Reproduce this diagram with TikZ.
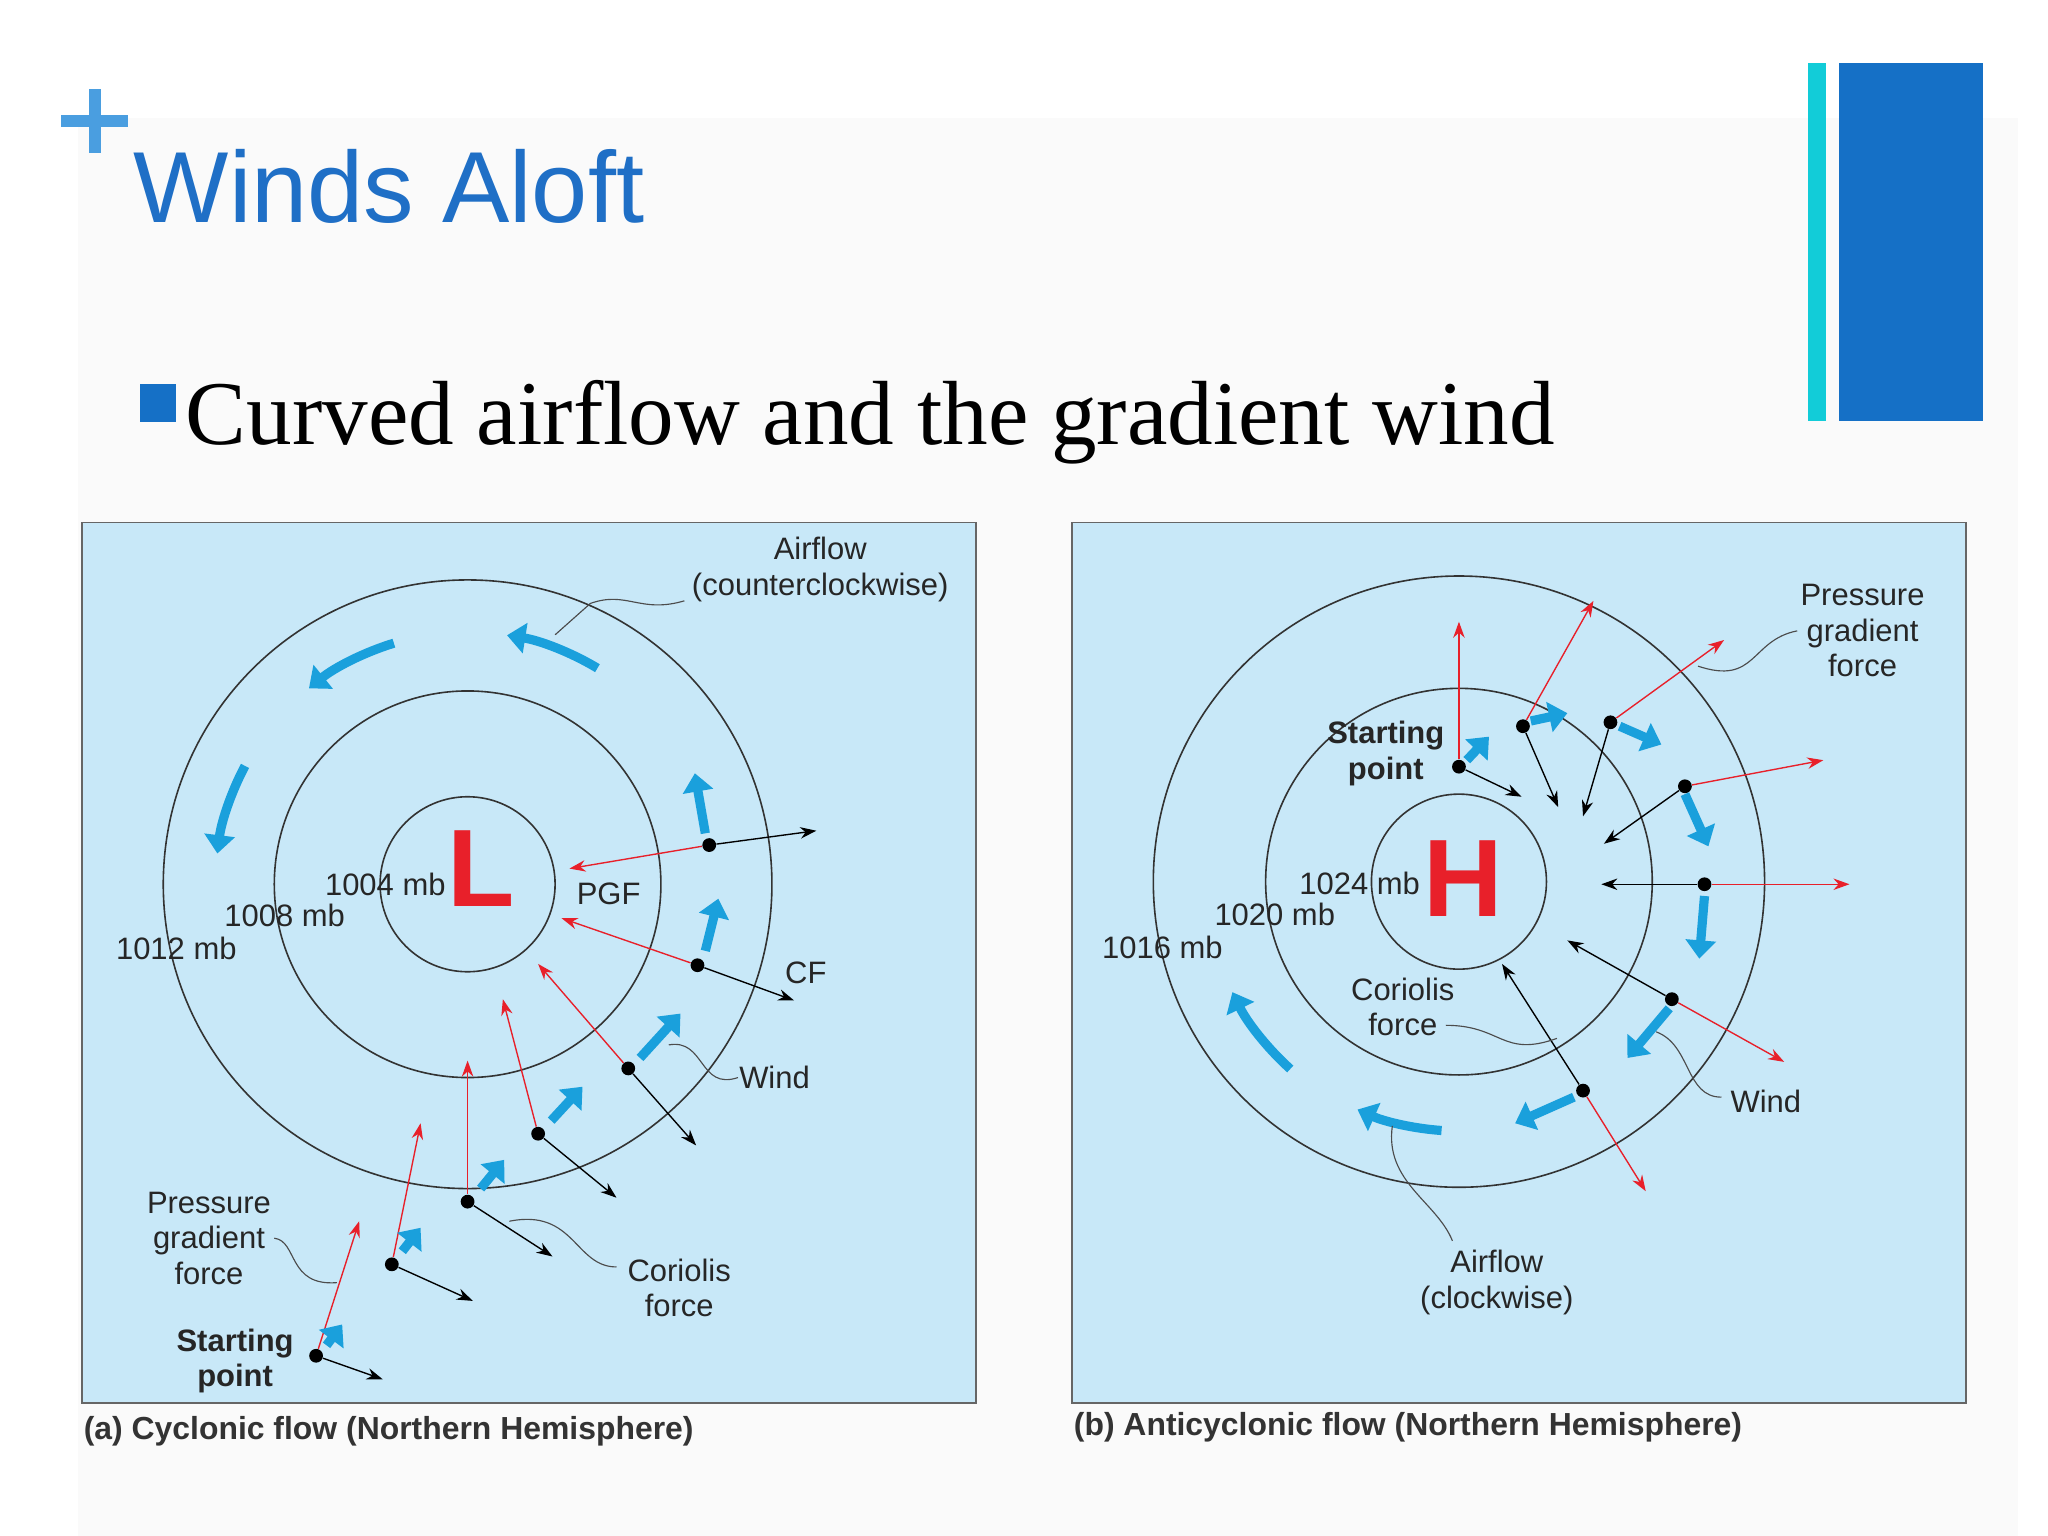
\documentclass[tikz,border=0pt]{standalone}
\usepackage{fontspec}
\setmainfont{Liberation Serif}
\setsansfont{Liberation Sans}
\usetikzlibrary{arrows.meta,calc}
\definecolor{titleblue}{HTML}{1F6FC6}
\definecolor{plusblue}{HTML}{4A9EE0}
\definecolor{barcyan}{HTML}{12CCD8}
\definecolor{barblue}{HTML}{1570C6}
\definecolor{panel}{HTML}{C8E8F8}
\definecolor{windblue}{HTML}{1AA0DC}
\definecolor{pgfred}{HTML}{E8202A}
\tikzset{
 panelbox/.style={draw=black!60,line width=0.8pt,fill=panel},
 iso/.style={draw=black!80,line width=0.7pt},
 pgfv/.style={draw=pgfred,line width=0.6pt,-{Stealth[length=7pt,width=5pt]}},
 cfv/.style={draw=black,line width=0.6pt,-{Stealth[length=7pt,width=5pt]}},
 windv/.style={draw=windblue,line width=4pt,-{Triangle[length=8pt,width=13pt]}},
 dotn/.style={circle,fill=black,inner sep=0pt,minimum size=6pt},
 lbl/.style={font=\sffamily\fontsize{13.5}{15.5}\selectfont,text=black!85,align=center},
 blbl/.style={font=\sffamily\bfseries\fontsize{13.5}{15.5}\selectfont,text=black!85,align=center},
 captxt/.style={font=\sffamily\bfseries\fontsize{13.9}{15}\selectfont,text=black!80,anchor=west},
 leader/.style={draw=black!70,line width=0.5pt},
 bigletter/.style={font=\sffamily\bfseries\fontsize{48}{48}\selectfont,text=pgfred}
}
\begin{document}
\begin{tikzpicture}[x=0.02cm,y=-0.02cm]
\useasboundingbox (0,0) rectangle (1568,1176);
\fill[white] (0,0) rectangle (1568,1176);
\fill[black!2] (60,90) rectangle (1545,1176);
% header
\fill[plusblue] (47,88) rectangle (98,97);
\fill[plusblue] (68,68) rectangle (77,117);
\node[anchor=base west,inner sep=0pt,text=titleblue,font=\sffamily\fontsize{44}{48}\selectfont] (title) at (102,170) {Winds Aloft};
\fill[barblue] (107,294) rectangle (135,323);
\node[anchor=base west,inner sep=0pt,font=\fontsize{39.7}{44}\selectfont] (sub) at (142,340) {Curved airflow and the gradient wind};
\fill[barcyan] (1384,48) rectangle (1398,322);
\fill[barblue] (1408,48) rectangle (1518,322);
% ===== panel a =====
\draw[panelbox] (63,400) rectangle (747,1074);
\coordinate (ca) at (358,677);
\draw[iso] (ca) circle[radius=67];
\draw[iso] (ca) circle[radius=148];
\draw[iso] (ca) circle[radius=233];
\node[bigletter] (L) at (368,665) {L};
\node[lbl] (a1004) at (295,677) {1004 mb};
\node[lbl] (a1008) at (218,701) {1008 mb};
\node[lbl] (a1012) at (135,726) {1012 mb};
\foreach \i/\x/\y/\rx/\ry/\kx/\ky/\bx/\by/\ex/\ey in {
 1/242/1038/275/935/293/1056/250/1030/262/1014,
 2/300/968/322/860/362/996/308/958/322/940,
 3/358/920/358/812/423/962/368/910/386/888,
 4/412/868/385/765/472/917/422/858/446/832,
 5/481/818/412/738/533/877/490/810/521/776,
 6/534/739/430/703/608/766/540/728/550/688,
 7/543/647/436/665/625/636/540/638/532/592}{
 \node[dotn] (ad\i) at (\x,\y) {};
 \coordinate (ar\i) at (\rx,\ry);
 \coordinate (ak\i) at (\kx,\ky);
 \coordinate (ab\i) at (\bx,\by);
 \coordinate (ae\i) at (\ex,\ey);
 \draw[pgfv] (ad\i) -- (ar\i);
 \draw[cfv] (ad\i) -- (ak\i);
 \draw[windv] (ab\i) -- (ae\i);
}
\draw[windv] ($(ca)+(-59:193)$) arc[start angle=-59,end angle=-81,radius=193];
\draw[windv] ($(ca)+(-107:193)$) arc[start angle=-107,end angle=-129,radius=193];
\draw[windv] ($(ca)+(-152:193)$) arc[start angle=-152,end angle=-173,radius=193];
\node[lbl] (aair) at (628,436) {Airflow\\(counterclockwise)};
\draw[leader] (524,460) .. controls (490,470) and (480,452) .. (452,462) -- (425,486);
\node[lbl] (apgf) at (466,684) {PGF};
\node[lbl] (acf) at (617,745) {CF};
\node[lbl] (awind) at (593,825) {Wind};
\draw[leader] (565,825) .. controls (535,835) and (540,795) .. (512,800);
\node[lbl] (acor) at (520,986) {Coriolis\\force};
\draw[leader] (472,970) .. controls (440,970) and (440,925) .. (390,935);
\node[lbl] (apgfl) at (160,948) {Pressure\\gradient\\force};
\draw[leader] (210,948) .. controls (228,950) and (220,985) .. (258,982);
\node[blbl] (astart) at (180,1042) {Starting\\point};
\node[captxt] (capa) at (58,1096) {(a) Cyclonic flow (Northern Hemisphere)};
% ===== panel b =====
\draw[panelbox] (821,400) rectangle (1505,1074);
\coordinate (cb) at (1117,675);
\draw[iso] (cb) circle[radius=67];
\draw[iso] (cb) circle[radius=148];
\draw[iso] (cb) circle[radius=234];
\node[bigletter] (H) at (1120,673) {H};
\node[lbl] (b1024) at (1041,676) {1024 mb};
\node[lbl] (b1020) at (976,700) {1020 mb};
\node[lbl] (b1016) at (890,725) {1016 mb};
\foreach \i/\x/\y/\rx/\ry/\kx/\ky in {
 1/1117/587/1117/476/1165/610,
 2/1166/556/1220/460/1193/618,
 3/1233/553/1320/490/1212/625,
 4/1290/602/1396/582/1228/646,
 5/1305/677/1416/677/1226/677,
 6/1280/765/1366/813/1200/720,
 7/1212/835/1260/912/1150/738}{
 \node[dotn] (bd\i) at (\x,\y) {};
 \coordinate (br\i) at (\rx,\ry);
 \coordinate (bk\i) at (\kx,\ky);
 \draw[pgfv] (bd\i) -- (br\i);
 \draw[cfv] (bd\i) -- (bk\i);
}
\foreach \i/\bx/\by/\ex/\ey in {
 1/1123/582/1140/564,
 2/1172/552/1200/546,
 3/1240/556/1272/570,
 4/1290/608/1308/648,
 5/1305/686/1301/734,
 6/1278/772/1246/810,
 7/1205/840/1160/860}{
 \coordinate (bb\i) at (\bx,\by);
 \coordinate (be\i) at (\ex,\ey);
 \draw[windv] (bb\i) -- (be\i);
}
\draw[windv] ($(cb)+(-266:191)$) arc[start angle=-266,end angle=-246,radius=191];
\draw[windv] ($(cb)+(-228:193)$) arc[start angle=-228,end angle=-206,radius=193];
\node[lbl] (bpgfl) at (1426,483) {Pressure\\gradient\\force};
\draw[leader] (1376,483) .. controls (1340,490) and (1345,525) .. (1300,510);
\node[blbl] (bstart) at (1061,577) {Starting\\point};
\node[lbl] (bcor) at (1074,771) {Coriolis\\force};
\draw[leader] (1107,785) .. controls (1150,785) and (1150,810) .. (1192,795);
\node[lbl] (bwind) at (1352,843) {Wind};
\draw[leader] (1318,840) .. controls (1290,840) and (1295,800) .. (1268,790);
\node[lbl] (bair) at (1146,982) {Airflow\\(clockwise)};
\draw[leader] (1112,950) .. controls (1100,920) and (1060,905) .. (1066,862);
\node[captxt] (capb) at (816,1093) {(b) Anticyclonic flow (Northern Hemisphere)};
\end{tikzpicture}
\end{document}
